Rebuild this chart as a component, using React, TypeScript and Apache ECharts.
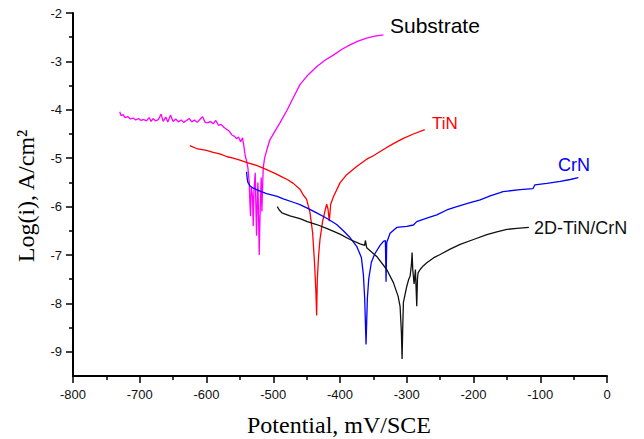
import React, { useEffect, useRef } from "react";
import * as echarts from "echarts";

// Potential (mV/SCE), Log(i) (A/cm2) pairs
const substrate: [number, number][] = [
  [-730, -4.04], [-728, -4.12], [-725, -4.1], [-722, -4.16], [-718, -4.14], [-714, -4.19],
  [-710, -4.17], [-706, -4.21], [-702, -4.18], [-698, -4.22], [-694, -4.2], [-690, -4.23],
  [-686, -4.16], [-683, -4.24], [-680, -4.18], [-676, -4.23], [-672, -4.2], [-668, -4.09],
  [-665, -4.24], [-661, -4.15], [-658, -4.25], [-654, -4.11], [-650, -4.24], [-646, -4.19],
  [-642, -4.25], [-638, -4.21], [-634, -4.26], [-630, -4.22], [-626, -4.18], [-622, -4.25],
  [-618, -4.21], [-614, -4.26], [-610, -4.2], [-606, -4.14], [-602, -4.26], [-598, -4.27],
  [-594, -4.24], [-590, -4.29], [-586, -4.22], [-582, -4.32], [-578, -4.3], [-574, -4.36],
  [-570, -4.4], [-566, -4.44], [-562, -4.52], [-558, -4.55], [-555, -4.6], [-552, -4.56],
  [-549, -4.66], [-546, -4.58], [-544, -4.75], [-542, -4.95], [-540, -5.05], [-538, -5.2],
  [-536, -5.5], [-535, -5.9], [-534, -6.2], [-533, -5.6], [-531, -5.8], [-530, -6.4],
  [-529, -5.7], [-527, -5.3], [-526, -6.0], [-525, -6.6], [-524, -5.9], [-523, -5.5],
  [-522, -6.2], [-521, -7.0], [-520, -6.3], [-519, -5.8], [-518, -5.4], [-517, -6.1],
  [-516, -5.6], [-515, -5.2], [-513, -5.0], [-509, -4.8], [-505, -4.62], [-497, -4.43],
  [-490, -4.27], [-479, -4.0], [-470, -3.75], [-460, -3.48], [-448, -3.28], [-435, -3.11],
  [-422, -2.97], [-410, -2.87], [-397, -2.75], [-385, -2.66], [-373, -2.58], [-360, -2.52],
  [-348, -2.48], [-335, -2.45],
];

const tin: [number, number][] = [
  [-625, -4.74], [-615, -4.8], [-600, -4.84], [-590, -4.88], [-580, -4.91], [-569, -4.97],
  [-560, -5.0], [-550, -5.04], [-539, -5.09], [-525, -5.15], [-509, -5.24], [-495, -5.33],
  [-485, -5.4], [-479, -5.44], [-470, -5.52], [-460, -5.64], [-455, -5.76], [-450, -5.85],
  [-445, -6.12], [-441, -6.54], [-438, -7.2], [-436, -7.8], [-435, -8.25], [-434, -7.5],
  [-432, -7.0], [-430, -6.68], [-426, -6.3], [-422, -6.06], [-420, -5.95], [-418, -6.05],
  [-416, -6.3], [-414, -5.95], [-410, -5.8], [-400, -5.51], [-390, -5.34], [-375, -5.17],
  [-360, -5.02], [-350, -4.95], [-335, -4.82], [-320, -4.7], [-305, -4.59], [-290, -4.5],
  [-273, -4.41],
];

const crn: [number, number][] = [
  [-540, -5.28], [-539, -5.42], [-538, -5.5], [-535, -5.57], [-530, -5.62], [-520, -5.68],
  [-510, -5.73], [-494, -5.79], [-485, -5.84], [-470, -5.91], [-460, -5.96], [-449, -6.03],
  [-435, -6.13], [-420, -6.24], [-405, -6.37], [-395, -6.5], [-385, -6.64], [-375, -6.82],
  [-368, -7.05], [-365, -7.4], [-363, -7.9], [-361, -8.85], [-359, -7.9], [-357, -7.5],
  [-353, -7.15], [-348, -6.98], [-340, -6.8], [-335, -6.72], [-332, -6.7], [-331, -7.55],
  [-330, -6.74], [-325, -6.55], [-315, -6.43], [-300, -6.41], [-290, -6.38], [-285, -6.31],
  [-270, -6.24], [-255, -6.17], [-240, -6.07], [-225, -6.0], [-205, -5.92], [-190, -5.86],
  [-175, -5.78], [-160, -5.71], [-156, -5.69], [-130, -5.65], [-111, -5.63], [-108, -5.55],
  [-90, -5.52], [-70, -5.48], [-55, -5.44], [-43, -5.4],
];

const tinCrn: [number, number][] = [
  [-494, -6.0], [-491, -6.07], [-487, -6.13], [-475, -6.19], [-460, -6.25], [-449, -6.31],
  [-435, -6.37], [-420, -6.45], [-400, -6.57], [-385, -6.68], [-370, -6.77], [-363, -6.8],
  [-362, -6.7], [-360, -6.85], [-345, -7.03], [-330, -7.3], [-320, -7.57], [-313, -7.85],
  [-310, -8.06], [-308, -8.6], [-307, -9.15], [-306, -8.5], [-305, -7.98], [-300, -7.65],
  [-297, -7.5], [-295, -7.44], [-293, -7.2], [-292, -6.95], [-291, -7.3], [-289, -7.6],
  [-287, -7.3], [-285, -8.06], [-284, -7.5], [-283, -7.37], [-280, -7.3], [-275, -7.22],
  [-270, -7.16], [-260, -7.06], [-250, -6.99], [-235, -6.88], [-220, -6.78], [-200, -6.68],
  [-180, -6.58], [-165, -6.52], [-150, -6.47], [-135, -6.45], [-117, -6.43],
];

const seriesNames = ["Substrate", "TiN", "CrN", "2D-TiN/CrN"];
const yTickValues = [-9, -8, -7, -6, -5, -4, -3, -2];
const yMinorTickValues = [-8.5, -7.5, -6.5, -5.5, -4.5, -3.5, -2.5];
const xTitle = "Potential, mV/SCE";
const yTitle = "Log(i), A/cm²";

export default function App() {
  const ref = useRef<HTMLDivElement>(null);
  useEffect(() => {
    if (!ref.current) return;
    const chart = echarts.init(ref.current, undefined, { renderer: "svg" });
    const sans = "Liberation Sans, Arial, sans-serif";
    const serif = "Liberation Serif, Times New Roman, serif";
    const mk = (name: string, data: [number, number][], color: string) => ({
      name,
      type: "line",
      yAxisIndex: 0,
      data,
      showSymbol: false,
      symbol: "none",
      lineStyle: { color, width: 1.3 },
      itemStyle: { color },
      z: 3,
    });
    chart.setOption({
      animation: false,
      backgroundColor: "#fff",
      grid: { left: 73, right: 37, top: 13, bottom: 63, containLabel: false },
      xAxis: {
        type: "value",
        min: -800,
        max: 0,
        interval: 100,
        axisLine: { show: true, onZero: false, lineStyle: { color: "#000", width: 2 } },
        axisTick: { show: true, inside: false, length: 7, lineStyle: { color: "#000", width: 1.5 } },
        minorTick: { show: true, splitNumber: 2, length: 4, lineStyle: { color: "#000", width: 1.5 } },
        axisLabel: { margin: 12, fontSize: 13, color: "#111", fontFamily: sans },
        splitLine: { show: false },
      },
      yAxis: [
        {
          type: "value",
          min: -9.5,
          max: -2,
          position: "left",
          axisLine: { show: true, onZero: false, lineStyle: { color: "#000", width: 2 } },
          axisTick: {
            show: true,
            inside: false,
            length: 7,
            customValues: yTickValues,
            lineStyle: { color: "#000", width: 1.5 },
          },
          axisLabel: { customValues: yTickValues, margin: 11, fontSize: 13, color: "#111", fontFamily: sans },
          splitLine: { show: false },
        },
        {
          type: "value",
          min: -9.5,
          max: -2,
          position: "left",
          offset: 0,
          axisLine: { show: false, onZero: false },
          axisTick: {
            show: true,
            inside: false,
            length: 4,
            customValues: yMinorTickValues,
            lineStyle: { color: "#000", width: 1.5 },
          },
          axisLabel: { show: false },
          splitLine: { show: false },
        },
      ],
      series: [
        mk(seriesNames[0], substrate, "#ff00ff"),
        mk(seriesNames[1], tin, "#ff0000"),
        mk(seriesNames[2], crn, "#0000ff"),
        mk(seriesNames[3], tinCrn, "#111111"),
      ],
      graphic: [
        {
          type: "text",
          x: 339,
          y: 425,
          style: { text: xTitle, font: `24px ${serif}`, fill: "#000", align: "center", verticalAlign: "middle" },
        },
        {
          type: "text",
          x: 26,
          y: 196,
          rotation: Math.PI / 2,
          style: { text: yTitle, font: `24px ${serif}`, fill: "#000", align: "center", verticalAlign: "middle" },
        },
        {
          type: "text",
          x: 390,
          y: 25,
          style: { text: seriesNames[0], font: `21px ${sans}`, fill: "#000", align: "left", verticalAlign: "middle" },
        },
        {
          type: "text",
          x: 432,
          y: 123,
          style: { text: seriesNames[1], font: `17px ${sans}`, fill: "#ff0000", align: "left", verticalAlign: "middle" },
        },
        {
          type: "text",
          x: 558,
          y: 165,
          style: { text: seriesNames[2], font: `18px ${sans}`, fill: "#0000ff", align: "left", verticalAlign: "middle" },
        },
        {
          type: "text",
          x: 534,
          y: 228,
          style: { text: seriesNames[3], font: `18px ${sans}`, fill: "#111", align: "left", verticalAlign: "middle" },
        },
      ],
    });
    return () => chart.dispose();
  }, []);
  return (
    <div
      ref={ref}
      style={{ position: "fixed", left: 0, top: 0, width: 644, height: 439, background: "#fff" }}
    />
  );
}
